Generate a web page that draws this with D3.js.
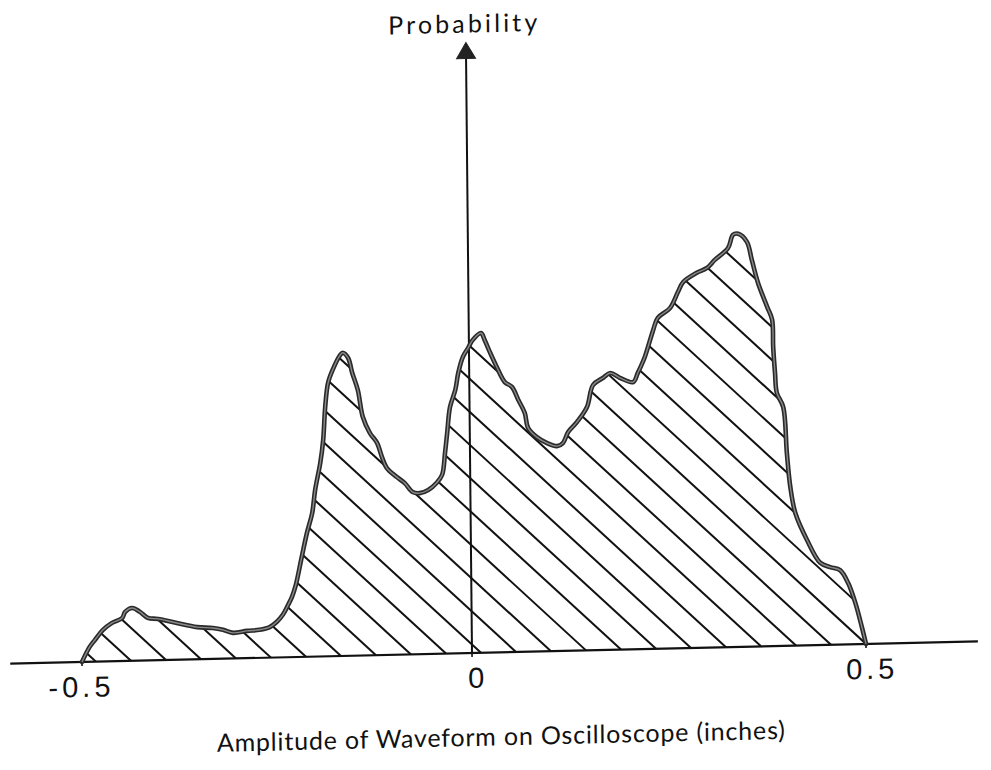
<!DOCTYPE html>
<html>
<head>
<meta charset="utf-8">
<script src="https://cdn.jsdelivr.net/npm/d3@7"></script>
<style>
  html, body { margin: 0; padding: 0; background: #fff; }
  svg { display: block; }
</style>
</head>
<body>
<svg id="chart" width="991" height="770"></svg>
<script>
// Amplitude (inches) of each traced point on the distribution outline
const amplitude = [
  -0.500, -0.490, -0.483, -0.473, -0.461, -0.448, -0.444, -0.435, -0.425, -0.415,
  -0.402, -0.378, -0.352, -0.332, -0.319, -0.306, -0.288, -0.272, -0.259, -0.250,
  -0.242, -0.235, -0.230, -0.225, -0.217, -0.210, -0.203, -0.199, -0.192, -0.188,
  -0.185, -0.181, -0.175, -0.165, -0.162, -0.155, -0.150, -0.143, -0.137, -0.128,
  -0.119, -0.113, -0.107, -0.094, -0.084, -0.074, -0.065, -0.054, -0.043, -0.036,
  -0.032, -0.029, -0.025, -0.018, -0.014, -0.008, -0.001, 0.005, 0.0155, 0.020,
  0.027, 0.035, 0.045, 0.054, 0.062, 0.070, 0.074, 0.085, 0.098, 0.1105,
  0.118, 0.125, 0.136, 0.149, 0.157, 0.170, 0.179, 0.191, 0.208, 0.214,
  0.223, 0.234, 0.240, 0.2556, 0.266, 0.2725, 0.290, 0.303, 0.313, 0.330,
  0.3365, 0.343, 0.354, 0.360, 0.3676, 0.379, 0.385, 0.386, 0.388, 0.390,
  0.398, 0.402, 0.406, 0.412, 0.4265, 0.443, 0.4555, 0.468, 0.478, 0.487,
  0.495, 0.500
];

// Relative probability at each amplitude (tallest peak = 1)
const probability = [
  0.000, 0.036, 0.053, 0.076, 0.093, 0.104, 0.119, 0.128, 0.118, 0.103,
  0.100, 0.089, 0.078, 0.075, 0.070, 0.062, 0.066, 0.068, 0.074, 0.086,
  0.103, 0.127, 0.146, 0.174, 0.242, 0.300, 0.348, 0.403, 0.469, 0.524,
  0.604, 0.662, 0.693, 0.729, 0.734, 0.721, 0.685, 0.643, 0.578, 0.538,
  0.514, 0.480, 0.453, 0.430, 0.415, 0.393, 0.390, 0.397, 0.414, 0.433,
  0.486, 0.534, 0.597, 0.638, 0.679, 0.717, 0.739, 0.758, 0.774, 0.757,
  0.725, 0.691, 0.654, 0.642, 0.610, 0.578, 0.542, 0.519, 0.504, 0.496,
  0.503, 0.530, 0.553, 0.589, 0.642, 0.659, 0.670, 0.658, 0.647, 0.669,
  0.707, 0.772, 0.801, 0.824, 0.863, 0.886, 0.908, 0.919, 0.938, 0.966,
  0.998, 1.000, 0.980, 0.936, 0.880, 0.821, 0.790, 0.724, 0.661, 0.613,
  0.578, 0.467, 0.384, 0.321, 0.255, 0.199, 0.188, 0.180, 0.149, 0.100,
  0.041, 0.000
];

// Labelled ticks on the amplitude axis
const tickValues = [-0.5, 0, 0.5];
const tickLabels = ["-0.5", "0", "0.5"];

// Extent of the drawn axes
const xAxisExtent = [-0.592, 0.642];
const yAxisTop = 1.478;

const xTitle = "Amplitude of Waveform on Oscilloscope (inches)";
const yTitle = "Probability";

const points = amplitude.map((a, i) => ({ a, p: probability[i] }));

const svg = d3.select("#chart");

// Local frame: origin at the axis crossing, drawn slightly tilted like the original sheet
const g = svg.append("g")
  .attr("transform", "translate(472,653) matrix(1,-0.023,0.01,1,0,0)");

const x = d3.scaleLinear().domain([-0.5, 0, 0.5]).range([-390, 0, 394]);
const y = d3.scaleLinear().domain([0, 1]).range([0, -413]);

const area = d3.area()
  .x(d => x(d.a))
  .y0(y(0))
  .y1(d => y(d.p))
  .curve(d3.curveCatmullRom.alpha(0.5));

const line = d3.line()
  .x(d => x(d.a))
  .y(d => y(d.p))
  .curve(d3.curveCatmullRom.alpha(0.5));

// Clip region for the hatching
svg.append("defs").append("clipPath")
  .attr("id", "under-curve")
  .append("path")
  .attr("d", area(points));

// Diagonal hatching under the curve
const hatchStep = 35;
const hatchSlope = 0.95;
const hatchStart = x(0) + 9;
const [hx0, hx1] = [x(-0.5), x(0.5) + 450];
const hatchX = [];
for (let k = Math.floor((hx0 - hatchStart) / hatchStep); hatchStart + k * hatchStep <= hx1; k++) {
  hatchX.push(hatchStart + k * hatchStep);
}
const hatchLen = 480;
g.append("g")
  .attr("clip-path", "url(#under-curve)")
  .selectAll("line")
  .data(hatchX)
  .join("line")
  .attr("x1", d => d)
  .attr("y1", y(0))
  .attr("x2", d => d - hatchLen)
  .attr("y2", y(0) - hatchLen * hatchSlope)
  .attr("stroke", "#111")
  .attr("stroke-width", 2);

// Horizontal axis
g.append("line")
  .attr("x1", x(xAxisExtent[0])).attr("x2", x(xAxisExtent[1]))
  .attr("y1", y(0)).attr("y2", y(0))
  .attr("stroke", "#111").attr("stroke-width", 2.2);

// Small tick marks
g.selectAll(".tick-mark")
  .data(tickValues)
  .join("line")
  .attr("class", "tick-mark")
  .attr("x1", d => x(d)).attr("x2", d => x(d))
  .attr("y1", y(0)).attr("y2", y(0) + 4)
  .attr("stroke", "#111").attr("stroke-width", 1.6);

// Vertical axis with arrowhead
const yTop = y(yAxisTop);
g.append("line")
  .attr("x1", x(0)).attr("x2", x(0))
  .attr("y1", y(0)).attr("y2", yTop + 14)
  .attr("stroke", "#111").attr("stroke-width", 2);
g.append("path")
  .attr("d", `M${x(0)},${yTop} L${x(0) - 9.5},${yTop + 16} L${x(0) + 9.5},${yTop + 16} Z`)
  .attr("fill", "#222").attr("stroke", "#222").attr("stroke-width", 1);

// Outline of the distribution: dark rim with a greyer core
g.append("path")
  .attr("d", line(points))
  .attr("fill", "none")
  .attr("stroke", "#2a2a2a")
  .attr("stroke-width", 4.6)
  .attr("stroke-linejoin", "round")
  .attr("stroke-linecap", "round");
g.append("path")
  .attr("d", line(points))
  .attr("fill", "none")
  .attr("stroke", "#8a8a8a")
  .attr("stroke-width", 1.4)
  .attr("stroke-linejoin", "round");

// Tick labels: numeric part centred just right of its tick, minus sign hanging left
const tickFont = { family: "Liberation Sans", size: 29, spacing: 4 };
tickValues.forEach((v, i) => {
  const label = tickLabels[i];
  const neg = label.startsWith("-");
  const body = neg ? label.slice(1) : label;
  const t = g.append("text")
    .attr("font-family", tickFont.family)
    .attr("font-size", tickFont.size)
    .attr("letter-spacing", tickFont.spacing)
    .attr("fill", "#111")
    .attr("y", y(0) + 35);
  t.append("tspan").text(body);
  const bodyW = t.node().getComputedTextLength() - tickFont.spacing;
  let startX = x(v) + 4 - bodyW / 2;
  if (neg) {
    t.selectAll("tspan").remove();
    t.append("tspan").text("-");
    t.append("tspan").text(body);
    const minusW = t.node().getComputedTextLength() - tickFont.spacing - bodyW;
    startX -= minusW;
  }
  t.attr("x", startX);
});

// Axis titles
g.append("text")
  .attr("x", x(0) - 3)
  .attr("y", yTop - 10)
  .attr("text-anchor", "middle")
  .attr("font-family", "Lato")
  .attr("font-size", 25)
  .attr("textLength", 149)
  .attr("lengthAdjust", "spacing")
  .attr("fill", "#111")
  .text(yTitle);

g.append("text")
  .attr("x", x(0) + 28)
  .attr("y", y(0) + 93)
  .attr("text-anchor", "middle")
  .attr("font-family", "Lato")
  .attr("font-size", 25)
  .attr("textLength", 568)
  .attr("lengthAdjust", "spacing")
  .attr("fill", "#111")
  .text(xTitle);
</script>
</body>
</html>
